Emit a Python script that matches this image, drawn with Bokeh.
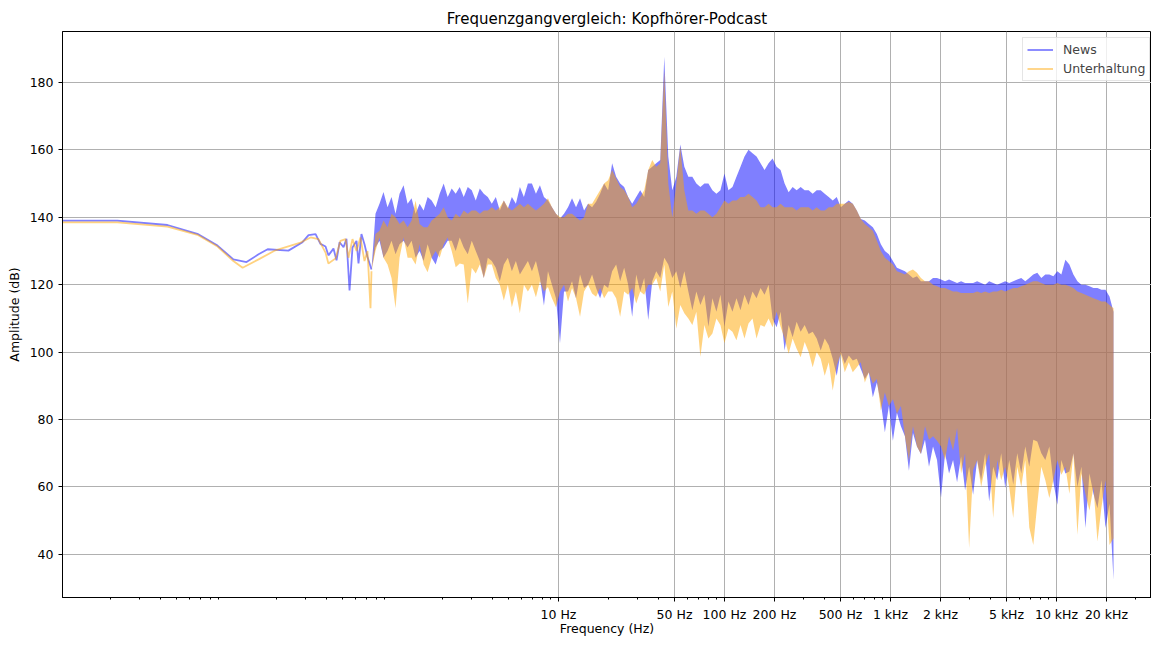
import numpy as np
from bokeh.plotting import figure
from bokeh.models import Range1d, FixedTicker, Legend, LegendItem
from bokeh.embed import file_html
from bokeh.resources import INLINE

TITLE = "Frequenzgangvergleich: Kopfhörer-Podcast"
X_LABEL = "Frequency (Hz)"
Y_LABEL = "Amplitude (dB)"
SERIES = ["News", "Unterhaltung"]

# ---- ticks ----
x_ticks = [10, 50, 100, 200, 500, 1000, 2000, 5000, 10000, 20000]
x_tick_labels = ["10 Hz", "50 Hz", "100 Hz", "200 Hz", "500 Hz",
                 "1 kHz", "2 kHz", "5 kHz", "10 kHz", "20 kHz"]
y_ticks = [40, 60, 80, 100, 120, 140, 160, 180]
minor_mantissas = [2, 3, 4, 5, 6, 7, 8, 9]
minor_decades = [0.01, 0.1, 1, 10, 100, 1000, 10000]

# ---- smooth low-frequency part (Hz, dB) ----
news_lf_freq = [0.0100, 0.0220, 0.0441, 0.0668, 0.0883, 0.110, 0.132, 0.156, 0.177,
                0.236, 0.287, 0.312, 0.344, 0.368, 0.395, 0.411, 0.441, 0.460, 0.480,
                0.507, 0.528, 0.551, 0.574, 0.607, 0.624, 0.650, 0.678, 0.707, 0.747]
news_lf_db = [139.0, 139.0, 137.7, 135.1, 131.6, 127.5, 126.7, 129.0, 130.5,
              130.1, 132.6, 134.7, 135.0, 132.1, 131.3, 128.7, 130.7, 127.2, 132.6,
              131.1, 133.6, 118.3, 131.0, 133.0, 126.3, 135.0, 132.0, 128.2, 124.5]
unt_lf_freq = [0.0100, 0.0220, 0.0441, 0.0668, 0.0883, 0.110, 0.125, 0.156, 0.197,
               0.279, 0.321, 0.358, 0.395, 0.411, 0.454, 0.486, 0.521, 0.543, 0.574,
               0.607, 0.641, 0.678, 0.707, 0.737, 0.747]
unt_lf_db = [138.5, 138.5, 137.2, 134.8, 131.3, 127.0, 125.0, 127.5, 130.2,
             132.5, 134.0, 133.5, 129.5, 126.3, 127.8, 133.0, 133.5, 128.0, 133.5,
             130.0, 134.0, 127.0, 130.0, 113.0, 124.0]

# ---- dense part: upper / lower envelopes on a log-spaced grid 0.747 Hz .. 22.05 kHz ----
grid_start, grid_end, grid_n = 0.747, 22050, 186

news_hi_db = [
    124.5, 141, 144, 147.5, 143, 146, 141, 147, 149.5, 144,
    145.6, 141, 144, 142, 146, 145, 143, 147, 150, 146,
    148.5, 147, 149, 146, 149, 148, 145, 148.5, 147, 146,
    144, 146, 142, 145, 142.6, 146, 144, 149, 146, 150,
    150, 147, 149.5, 146, 145, 143, 141, 139.6, 141, 143,
    145.6, 143, 145.6, 142, 144, 143, 144.6, 147, 150, 148,
    156, 152, 150, 149, 146, 144, 146, 148, 146, 154,
    155, 156, 157, 187.6, 158, 148, 152, 161.6, 155, 152,
    152, 150, 149, 150, 150, 148, 147, 148, 153, 148,
    149, 152, 155, 158, 160, 159, 158, 156, 154, 156,
    157.4, 155, 154, 150, 147.4, 149, 148, 149, 148, 148,
    147, 148, 148, 147, 146, 145, 146, 143, 144, 145,
    144, 142, 139.5, 139, 138, 137, 135, 132, 130, 129,
    127, 125, 124.5, 124, 123, 122, 122.5, 121, 121, 121,
    122, 122, 121.5, 121, 121.5, 121, 120.5, 121, 120.5, 120.5,
    120.5, 121, 120.5, 120, 121, 120.5, 120, 120.5, 121, 120.5,
    121, 121.5, 122, 121, 122, 123, 123.5, 122, 123, 123,
    122.5, 124, 123, 127.4, 126, 123, 121, 120, 120, 119.5,
    119, 119, 118.5, 118.5, 116.5, 112]
news_lo_db = [
    124.5, 131, 133, 128, 130, 133, 129, 132, 133, 131,
    133, 128, 130, 127, 132, 128, 126, 130, 131, 133,
    133, 130, 134, 131, 129, 133, 130, 127, 122, 128,
    127, 125, 121, 126, 128, 124, 127, 123, 125, 127,
    124, 127, 122, 113.8, 124, 120, 116, 102.6, 118, 118,
    121, 116, 123, 119, 120, 123, 119, 116, 120, 119,
    124, 126, 121, 125, 120, 110.5, 123, 118, 122, 109.5,
    121, 124, 122, 128, 126, 122, 124, 119, 124, 118,
    112.4, 118, 114, 117, 107.5, 116, 112, 117, 107.5, 115,
    112, 116, 112.4, 117, 114, 118, 116, 119, 117, 120,
    110, 107.4, 112, 100.5, 108, 104.4, 109, 106, 108, 105.4,
    106, 104, 100.5, 104, 102, 98, 93, 100, 96.5, 99,
    97.5, 98, 95, 92, 94, 86.6, 91, 85, 76.2, 84,
    73.7, 82, 78, 75, 64.8, 76, 72, 69.8, 74, 66,
    72, 68, 56.9, 70, 64, 68, 61.4, 69, 59, 66,
    57.7, 68, 62, 70, 55.7, 66, 62, 70, 59.7, 68,
    60.7, 70, 64, 72, 66, 74, 73.5, 70, 68, 72,
    61.6, 54.7, 68, 64, 64.6, 70, 60, 66, 47.8, 64,
    58, 53.7, 62, 47.8, 55, 32.5]
unt_hi_db = [
    124, 135, 136, 139, 137, 141, 140, 138, 139, 137,
    139, 145, 138, 137, 137, 139, 140, 141, 143, 140,
    139, 141, 140, 142, 141, 142, 142, 141, 142, 142,
    143, 142, 143, 145, 143, 142, 143, 144, 143, 144,
    143, 142, 143, 144, 145.6, 143, 141, 140, 140, 141,
    141, 140, 139, 140, 144, 144, 146, 148, 150, 151,
    154, 151.5, 149, 148, 146, 143, 144, 146, 148, 154,
    157, 155, 156, 183.6, 150, 140, 150, 161, 148, 142,
    142, 141, 142, 142, 141, 140, 141, 143, 145, 144,
    145, 145, 146, 146, 147, 146, 145, 143, 143, 144,
    143, 143, 144, 143, 143, 143, 142, 143, 143, 143,
    142, 143, 142, 142, 143, 143, 144, 144, 144, 144.5,
    144, 142, 139.5, 138, 137, 136, 133, 130, 128, 127,
    126, 124, 123.5, 123, 124, 124.5, 123.5, 122, 121, 121,
    120, 119.5, 119, 119, 118.5, 118, 118, 117.5, 117.5, 117.5,
    117.5, 118, 117.5, 118, 117.5, 118, 118, 118.5, 118, 118.5,
    119, 119, 119.5, 120, 120.5, 121, 121, 120.5, 120, 120,
    120, 120.5, 120, 120, 119.5, 119, 118, 117.5, 117, 116.5,
    116, 115.5, 115, 115, 114, 113]
unt_lo_db = [
    124, 130, 134, 128, 126, 122, 113, 128, 134, 128,
    128, 126, 132, 126, 123.7, 128, 130, 128, 132, 134,
    130, 125.2, 126.3, 126, 114.4, 125, 123.3, 126, 122, 126,
    126, 122, 120, 115.3, 120, 113.3, 118, 111.5, 120, 118,
    120, 116.3, 121, 118, 119.3, 116, 113.3, 118, 120, 115,
    119, 116, 110.5, 118, 120, 117.4, 116.4, 119, 116, 118,
    118, 116, 110.5, 118, 117, 119, 114.4, 118, 117, 120,
    120, 122, 118, 126, 113.4, 118, 107, 114, 111.5, 110,
    108, 112, 98.6, 108, 104, 105.5, 110, 108, 102.6, 107,
    106, 103.5, 108, 104, 108.5, 110, 104, 108, 107.5, 110,
    107.4, 112, 107.5, 104, 99.5, 104, 101, 98.5, 103, 100,
    95.5, 100, 98, 93, 97, 88.6, 96, 99.5, 94, 97,
    94, 95.5, 97, 91, 94, 90.6, 92, 82.7, 88, 84,
    86, 81.7, 84, 75, 67.8, 78, 72, 69.8, 78, 74,
    75, 73.7, 72, 68, 75, 70.8, 77.5, 64, 70, 41.9,
    65, 68, 60, 66, 70, 50.8, 68, 62, 66, 60,
    50.8, 66, 60, 68, 48, 42.8, 55, 66, 62, 56.7,
    62, 68, 63.6, 66, 58, 70, 45.8, 64, 58, 53,
    60, 43.8, 54, 62, 42.8, 44.8]

FONT = "DejaVu Sans"
BLUE = "#0000ff"
ORANGE = "#ffa500"

p = figure(width=1151, height=639, x_axis_type="log",
           x_range=Range1d(0.01028, 37350), y_range=Range1d(27.2, 195.1),
           output_backend="svg", toolbar_location=None,
           min_border_left=62, min_border_right=0, min_border_top=31,
           min_border_bottom=42)

p.title.text = TITLE
p.title.align = "center"
p.title.text_font = FONT
p.title.text_font_size = "15px"
p.title.text_font_style = "normal"
p.title.text_color = "black"
p.title.standoff = 8

p.outline_line_color = "black"
p.outline_line_width = 1
p.background_fill_color = "white"
p.border_fill_color = "white"

minor = [m * d for d in minor_decades for m in minor_mantissas
         if (m * d) not in x_ticks and m * d < 37350]
p.xaxis.ticker = FixedTicker(ticks=x_ticks, minor_ticks=minor)
p.xaxis.major_label_overrides = {float(t): lab for t, lab in zip(x_ticks, x_tick_labels)}
p.yaxis.ticker = FixedTicker(ticks=y_ticks)
p.xgrid.ticker = FixedTicker(ticks=x_ticks)
p.ygrid.ticker = FixedTicker(ticks=y_ticks)

for ax in (p.xaxis[0], p.yaxis[0]):
    ax.axis_line_color = "black"
    ax.major_tick_out = 4
    ax.major_tick_in = 0
    ax.minor_tick_out = 2
    ax.minor_tick_in = 0
    ax.major_tick_line_color = "black"
    ax.minor_tick_line_color = "black"
    ax.major_label_text_font = FONT
    ax.major_label_text_font_size = "12.5px"
    ax.major_label_text_color = "black"
    ax.axis_label_text_font = FONT
    ax.axis_label_text_font_size = "12.5px"
    ax.axis_label_text_font_style = "normal"
    ax.axis_label_text_color = "black"
    ax.major_label_standoff = 5
p.yaxis.minor_tick_line_color = None
p.xaxis.axis_label = X_LABEL
p.yaxis.axis_label = Y_LABEL
p.xaxis.axis_label_standoff = -4
p.yaxis.axis_label_standoff = 5

for g in (p.xgrid[0], p.ygrid[0]):
    g.grid_line_color = "#b0b0b0"
    g.grid_line_width = 1

grid_freq = np.geomspace(grid_start, grid_end, grid_n)

# News
l_news = p.line(news_lf_freq, news_lf_db, line_color=BLUE, line_alpha=0.5, line_width=1.8)
p.varea(x=grid_freq, y1=news_lo_db, y2=news_hi_db, fill_color=BLUE, fill_alpha=0.5)
# Unterhaltung
l_unt = p.line(unt_lf_freq, unt_lf_db, line_color=ORANGE, line_alpha=0.5, line_width=1.8)
p.varea(x=grid_freq, y1=unt_lo_db, y2=unt_hi_db, fill_color=ORANGE, fill_alpha=0.5)

legend = Legend(items=[LegendItem(label=SERIES[0], renderers=[l_news]),
                       LegendItem(label=SERIES[1], renderers=[l_unt])],
                location=(960, 516))
legend.padding = 4
legend.spacing = 4
legend.glyph_width = 26
legend.glyph_height = 15
legend.label_height = 15
legend.label_standoff = 10
legend.label_text_font = FONT
legend.label_text_font_size = "12.5px"
legend.border_line_color = "#cccccc"
legend.background_fill_alpha = 0.8
p.add_layout(legend)

open("out.html", "w").write(file_html(p, INLINE))
